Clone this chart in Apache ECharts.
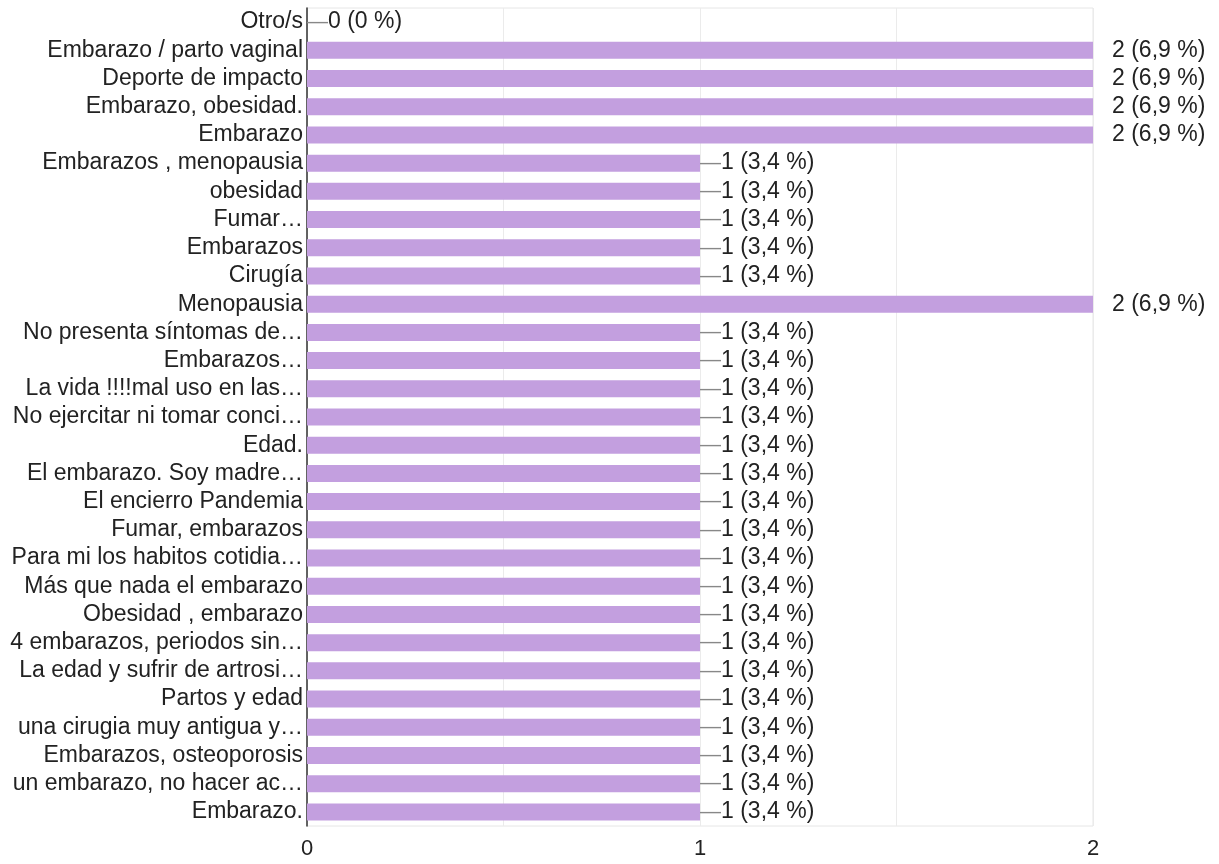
<!DOCTYPE html>
<html>
<head>
<meta charset="utf-8">
<title>chart</title>
<script src="https://cdn.jsdelivr.net/npm/echarts@6/dist/echarts.min.js"></script>
<style>
    html, body { margin: 0; padding: 0; background: #fff; }
    #charts { width: 1219px; height: 864px; }
</style>
</head>
<body>
<div id="charts"></div>
<script>
    var categories = [
        'Otro/s', 'Embarazo / parto vaginal', 'Deporte de impacto', 'Embarazo, obesidad.', 'Embarazo',
        'Embarazos , menopausia', 'obesidad', 'Fumar…', 'Embarazos', 'Cirugía', 'Menopausia',
        'No presenta síntomas de…', 'Embarazos…', 'La vida !!!!mal uso en las…', 'No ejercitar ni tomar conci…',
        'Edad.', 'El embarazo. Soy madre…', 'El encierro Pandemia', 'Fumar, embarazos',
        'Para mi los habitos cotidia…', 'Más que nada el embarazo', 'Obesidad , embarazo',
        '4 embarazos, periodos sin…', 'La edad y sufrir de artrosi…', 'Partos y edad',
        'una cirugia muy antigua y…', 'Embarazos, osteoporosis', 'un embarazo, no hacer ac…', 'Embarazo.'
    ];
    var counts = [0, 2, 2, 2, 2, 1, 1, 1, 1, 1, 2, 1, 1, 1, 1, 1, 1, 1, 1, 1, 1, 1, 1, 1, 1, 1, 1, 1, 1];
    var totalResponses = 29;
    var xTicks = [0, 1, 2];

    var FONT = '"Liberation Sans", Arial, sans-serif';

    function pct(v) {
        var p = Math.round(v / totalResponses * 1000) / 10;
        return String(p).replace('.', ',') + ' %';
    }

    var seriesData = counts.map(function (v) {
        // las barras que llegan al borde llevan la etiqueta fuera del área
        if (v === 2) {
            return { value: v, label: { distance: 19, formatter: '{v|' + v + ' (' + pct(v) + ')}' } };
        }
        return { value: v, label: { distance: 0, formatter: '{d|—}{v|' + v + ' (' + pct(v) + ')}' } };
    });

    var chart = echarts.init(document.getElementById('charts'));
    chart.setOption({
        animation: false,
        textStyle: { fontFamily: FONT },
        grid: {
            left: 307, right: 126, top: 8, bottom: 38,
            show: true, borderColor: '#e6e6e6', borderWidth: 1
        },
        xAxis: {
            type: 'value',
            min: 0, max: 2, interval: 0.5,
            axisLine: { show: false },
            axisTick: { show: false },
            splitLine: { lineStyle: { color: '#ebebeb', width: 1 } },
            axisLabel: {
                margin: 12,
                fontSize: 22,
                fontFamily: FONT,
                color: '#222',
                formatter: function (v) { return xTicks.indexOf(v) >= 0 ? String(v) : ''; }
            }
        },
        yAxis: {
            type: 'category',
            inverse: true,
            data: categories,
            axisLine: { lineStyle: { color: '#333', width: 1.5 } },
            axisTick: { show: false },
            axisLabel: { interval: 0, margin: 4, fontSize: 23, fontFamily: FONT, color: '#222' }
        },
        series: [{
            type: 'bar',
            data: seriesData,
            barWidth: 17,
            itemStyle: { color: '#c39fdf' },
            label: {
                show: true,
                position: 'right',
                rich: {
                    d: { color: '#888', fontSize: 21, fontFamily: FONT },
                    v: { color: '#222', fontSize: 23, fontFamily: FONT }
                }
            }
        }]
    });
</script>
</body>
</html>
